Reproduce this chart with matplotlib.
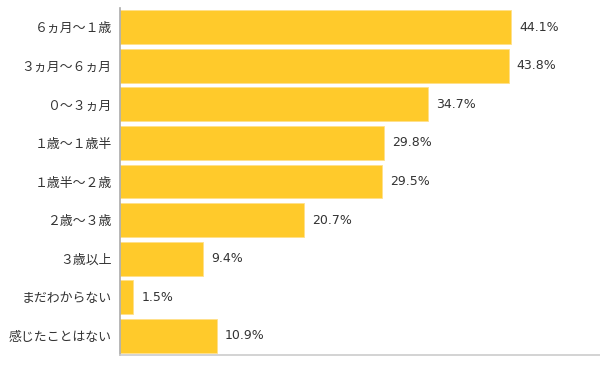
import matplotlib.pyplot as plt

plt.rcParams['font.family'] = ['Noto Sans CJK JP', 'DejaVu Sans']

categories = ['６ヵ月～１歳', '３ヵ月～６ヵ月', '０～３ヵ月', '１歳～１歳半',
              '１歳半～２歳', '２歳～３歳', '３歳以上', 'まだわからない', '感じたことはない']
values = [44.1, 43.8, 34.7, 29.8, 29.5, 20.7, 9.4, 1.5, 10.9]

fig = plt.figure(figsize=(6, 3.66), dpi=100)
ax = fig.add_axes([0.2, 0.030, 0.8, 0.948])

pos = list(range(len(categories)))
ax.barh(pos, values, height=0.88, color='#FFCA2B', edgecolor='#FFE08A', linewidth=0.6)

for p, v in zip(pos, values):
    ax.text(v + 0.9, p, '{0:.1f}%'.format(v), va='center', ha='left',
            fontsize=9, color='#333333', family='DejaVu Sans')

ax.set_yticks(pos)
ax.set_yticklabels(categories, fontsize=9.3, color='#333333')
ax.tick_params(axis='y', length=0, pad=6)
ax.set_xticks([])
ax.set_xlim(0, 54.1)
ax.set_ylim(len(categories) - 0.5, -0.5)

for s in ['top', 'right']:
    ax.spines[s].set_visible(False)
ax.spines['left'].set_color('#AAAAAA')
ax.spines['left'].set_linewidth(1.2)
ax.spines['bottom'].set_color('#CCCCCC')
ax.spines['bottom'].set_linewidth(1.2)

plt.savefig('out.png', dpi=100)
